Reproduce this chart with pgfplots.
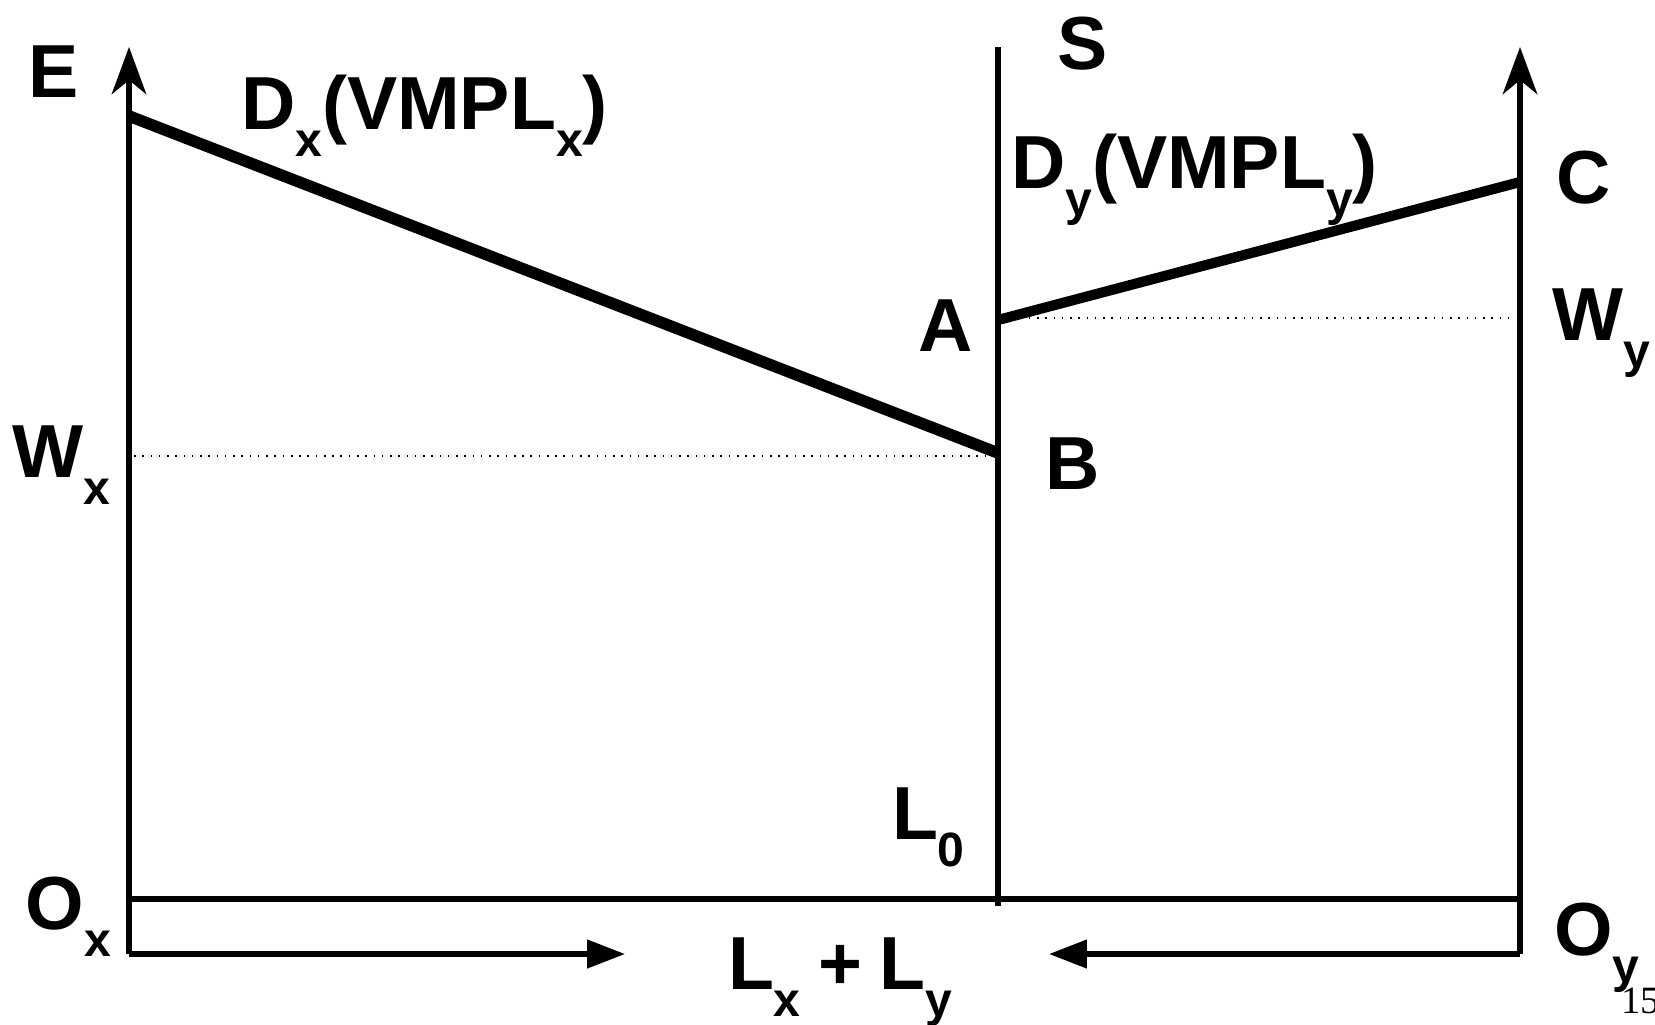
\documentclass[border=0pt]{standalone}
\usepackage{pgfplots}
\pgfplotsset{compat=1.18}
\usepackage{fontspec}
\setmainfont{Liberation Sans}
\newfontfamily\pagefont{Liberation Serif}
\usetikzlibrary{arrows.meta}

% big bold labels and their lowered subscripts
\newcommand\lab{\fontsize{21.4}{24}\selectfont\bfseries}
\newcommand\sub[1]{\raisebox{-7.7pt}{\fontsize{13.7}{14}\selectfont\bfseries #1}}
\tikzset{tx/.style={inner sep=0pt, outer sep=0pt, anchor=base west}}

\begin{document}
\begin{tikzpicture}
\begin{axis}[
  hide axis, scale only axis,
  width=16.55cm, height=10.24cm,
  xmin=0, xmax=1655, ymin=0, ymax=1024,
  y dir=reverse, clip=false,
]
\coordinate (p1) at (axis cs:0,0);
\coordinate (p2) at (axis cs:1655,1024);

% axes of the two sectors
\addplot[line width=1.6pt, -{Stealth[length=13.4pt,width=9.8pt,inset=4pt]}]
  coordinates {(129,954) (129,47)};
\addplot[line width=1.6pt, -{Stealth[length=13.4pt,width=9.8pt,inset=4pt]}]
  coordinates {(1520,954) (1520,47)};
\addplot[line width=1.5pt] coordinates {(998,47) (998,906)};
\addplot[line width=1.5pt] coordinates {(129,899) (1520,899)};

% labour measured from each origin
\addplot[line width=1.5pt, -{Triangle[length=10.8pt,width=7.9pt]}]
  coordinates {(129,954) (625,954)};
\addplot[line width=1.5pt, -{Triangle[length=10.8pt,width=7.9pt]}]
  coordinates {(1520,954) (1049,954)};

% demand curves
\addplot[line width=3.3pt] coordinates {(129,116) (998,453)};
\addplot[line width=2.9pt] coordinates {(998,320) (1520,182)};

% wage levels
\addplot[line width=0.5pt, dash pattern=on 0.45pt off 1.9pt] coordinates {(134,456) (992,456)};
\addplot[line width=0.5pt, dash pattern=on 0.45pt off 1.9pt] coordinates {(1004,318) (1515,318)};

\node[tx] at (axis cs:28,97) {\lab E};
\node[tx] at (axis cs:241,129) {\lab D\sub{x}(VMPL\sub{x})};
\node[tx] at (axis cs:1057,69) {\lab S};
\node[tx] at (axis cs:1011,188) {\lab D\sub{y}(VMPL\sub{y})};
\node[tx] at (axis cs:1556,203) {\lab C};
\node[tx] at (axis cs:918,351) {\lab A};
\node[tx] at (axis cs:1552,340) {\lab W\sub{y}};
\node[tx] at (axis cs:13,477) {\lab W\sub{x}};
\node[tx] at (axis cs:1045,489) {\lab B};
\node[tx] at (axis cs:892,839) {\lab L\sub{0}};
\node[tx] at (axis cs:26,929) {\lab O\sub{x}};
\node[tx] at (axis cs:1554,955) {\lab O\sub{y}};
\node[tx] at (axis cs:728,989) {\lab L\sub{x}\hspace{5pt}+\hspace{5pt}L\sub{y}};
\node[tx] at (axis cs:1621,1013) {\pagefont\fontsize{11}{12}\selectfont 15};
\end{axis}
\pgfresetboundingbox
\path (p1) rectangle (p2);
\end{tikzpicture}
\end{document}
